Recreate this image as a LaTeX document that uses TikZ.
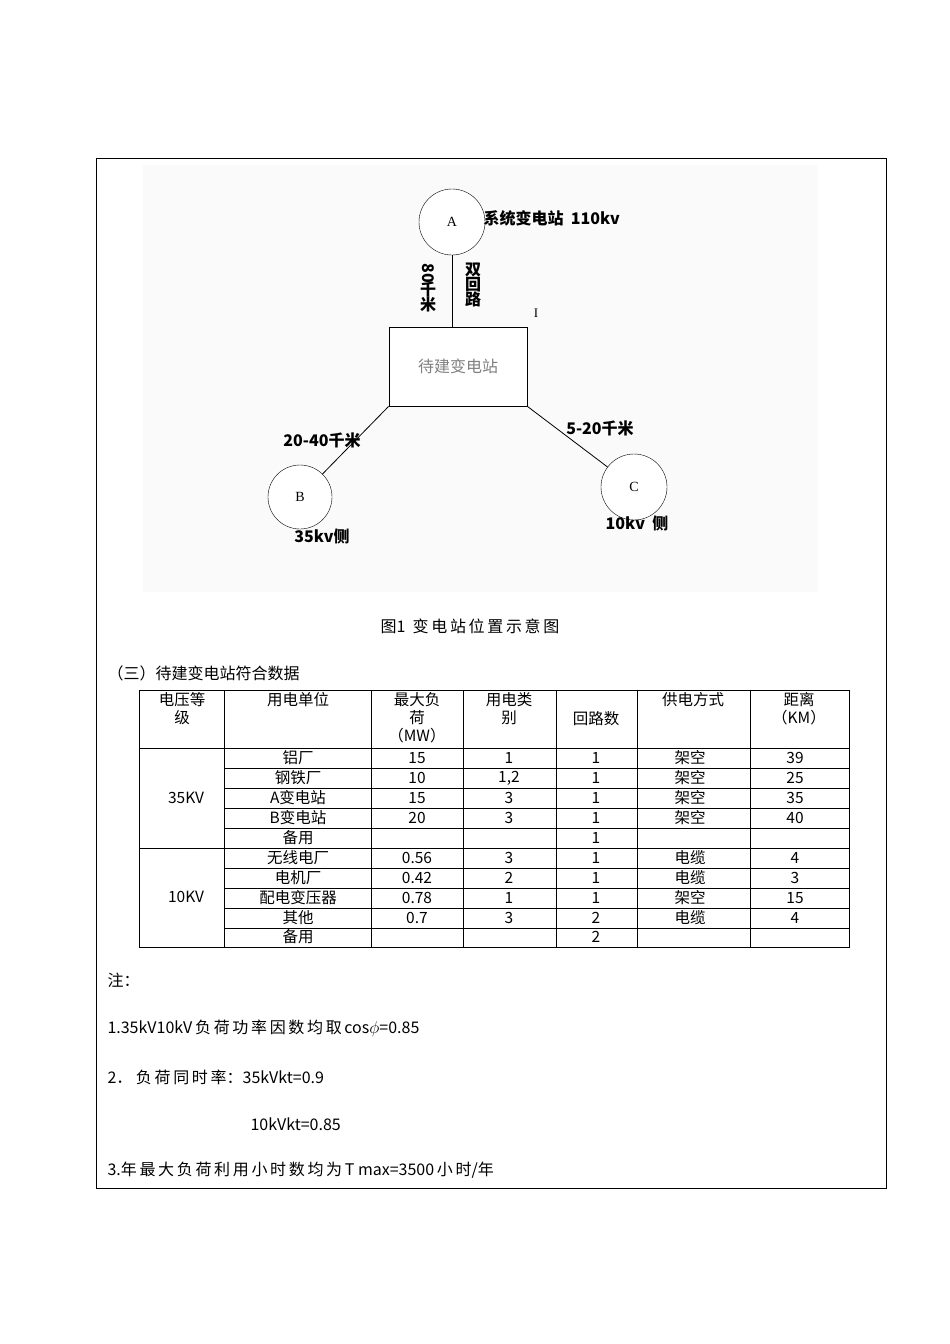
\documentclass[tikz,border=0pt]{standalone}
\usepackage{fontspec}
\setmainfont{Liberation Serif}
\newfontfamily\cjk{Noto Sans CJK SC}
\begin{document}
\begin{tikzpicture}[x=1pt,y=-1pt,
  every node/.style={font=\cjk\fontsize{16}{18}\selectfont},
  stn/.style={draw,circle,minimum size=66pt,inner sep=0pt,fill=white,font=\fontsize{14}{16}\selectfont},
  lbl/.style={font=\cjk\bfseries\fontsize{16}{18}\selectfont},
  cell/.style={font=\cjk\fontsize{15.5}{16}\selectfont,inner sep=0pt},
  hd/.style={font=\cjk\fontsize{15.5}{18}\selectfont,align=center,inner sep=0pt,anchor=north}]
\useasboundingbox (0,0) rectangle (950,1344);
\fill[white] (0,0) rectangle (950,1344);
\draw (96,158) rectangle (886,1188);
\fill[gray!4] (143,165) rectangle (818,592);
% diagram
\node[stn] (A) at (452,222) {A};
\node[draw,thick,fill=white,minimum width=138pt,minimum height=79pt,inner sep=0pt,text=gray] (S) at (458,366.5) {待建变电站};
\node[stn,minimum size=64pt] (B) at (300,497) {B};
\node[stn] (C) at (634,487) {C};
\draw[thick] (A) -- (A|-S.north);
\draw[thick] (S.south west) -- (B);
\draw[thick] (S.south east) -- (C);
\node[lbl,anchor=west] (la) at (480,218) {系统变电站\ \ 110kv};
\node[lbl,align=center,inner sep=0pt] (l80) at (428,288) {\rotatebox{-90}{80}\\[-2pt]千\\[-3pt]米};
\node[lbl,align=center,inner sep=0pt] (ldh) at (473,285) {双\\[-3pt]回\\[-3pt]路};
\node[font=\fontsize{13}{15}\selectfont] (cur) at (536,313) {I};
\node[lbl] (l2040) at (322,440) {20-40千米};
\node[lbl] (l35) at (322,536) {35kv侧};
\node[lbl] (l520) at (600,428) {5-20千米};
\node[lbl] (l10) at (637,523) {10kv\ \ 侧};
\node (cap) at (470,626) {图1\ \ 变\,电\,站\,位\,置\,示\,意\,图};
\node[anchor=west] (t3) at (104,673) {（三）待建变电站符合数据};
% table
\draw (139,690) rectangle (849,947);
\foreach \x in {224,371,463,556,637,750} \draw (\x,690) -- (\x,947);
\draw (139,748) -- (849,748);
\draw (139,848) -- (849,848);
\foreach \y in {768,788,808,828,868,888,908,928} \draw (224,\y) -- (849,\y);
\node[hd] (h1) at (182,692) {电压等\\级};
\node[hd] (h2) at (298,692) {用电单位};
\node[hd] (h3) at (417,692) {最大负\\荷\\（MW）};
\node[hd] (h4) at (509,692) {用电类\\别};
\node[cell] (h5) at (596,719) {回路数};
\node[hd] (h6) at (693,692) {供电方式};
\node[hd] (h7) at (799,692) {距离\\（KM）};
\node[cell] (v35) at (186,798) {35KV};
\node[cell] (v10) at (186,897) {10KV};
\foreach \y/\a/\b/\c/\d/\e/\f in {
 758/铝厂/15/1/1/架空/39,
 778/钢铁厂/10/{1,2}/1/架空/25,
 798/A变电站/15/3/1/架空/35,
 818/B变电站/20/3/1/架空/40,
 838/备用///1//,
 858/无线电厂/0.56/3/1/电缆/4,
 878/电机厂/0.42/2/1/电缆/3,
 898/配电变压器/0.78/1/1/架空/15,
 918/其他/0.7/3/2/电缆/4,
 937/备用///2//}{
 \node[cell] at (298,\y) {\a};
 \node[cell] at (417,\y) {\b};
 \node[cell] at (509,\y) {\c};
 \node[cell] at (596,\y) {\d};
 \node[cell] at (690,\y) {\e};
 \node[cell] at (795,\y) {\f};
}
% notes
\node[anchor=west] (n0) at (104,980) {注：};
\node[anchor=west] (n1) at (104,1028) {1.35kV10kV\,负\,荷\,功\,率\,因\,数\,均\,取\,cos$\phi$=0.85};
\node[anchor=west] (n2) at (104,1077) {2．\ 负\,荷\,同\,时\,率：35kVkt=0.9};
\node[anchor=west] (n3) at (247,1124) {10kVkt=0.85};
\node[anchor=west] (n4) at (104,1170) {3.年\,最\,大\,负\,荷\,利\,用\,小\,时\,数\,均\,为\,T\ max=3500\,小\,时/年};
\end{tikzpicture}
\end{document}
